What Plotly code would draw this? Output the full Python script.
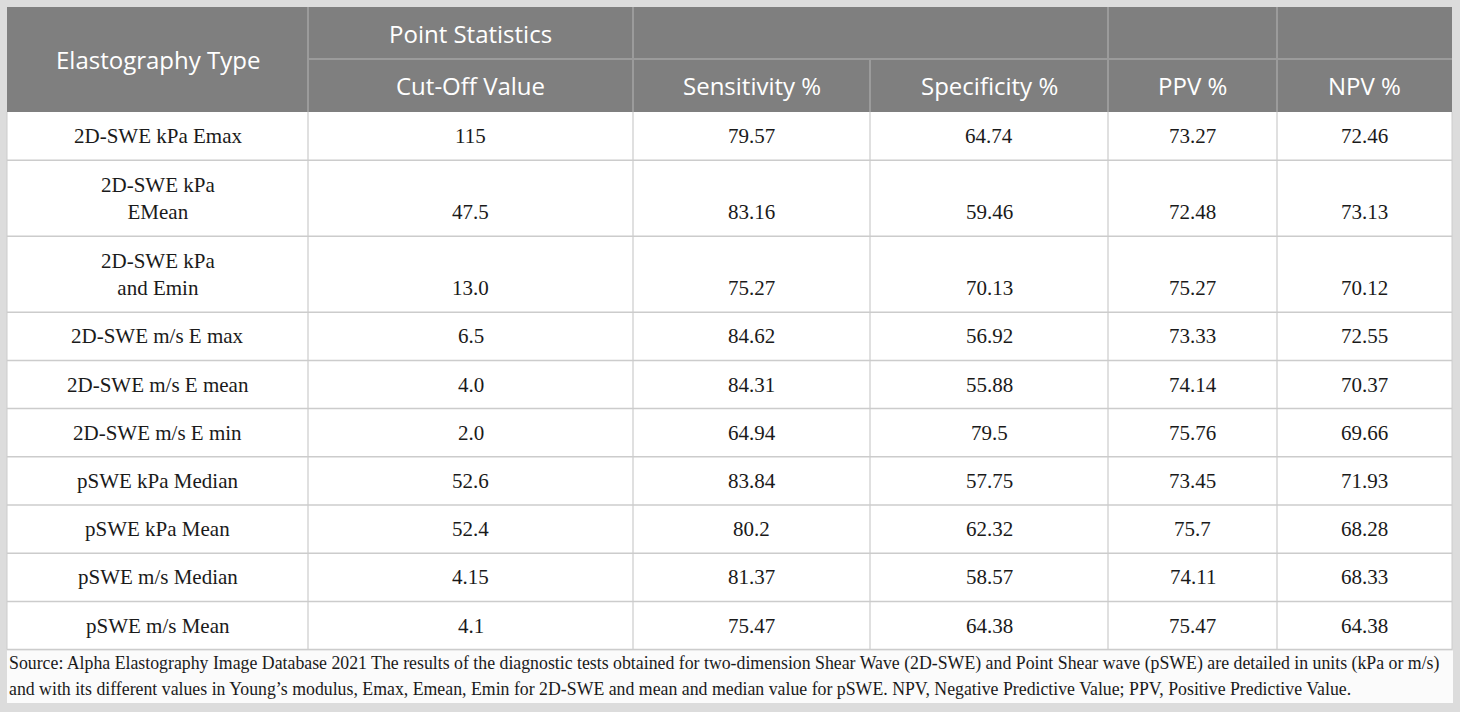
import plotly.graph_objects as go

# table content
elastography_type = ['2D-SWE kPa Emax', '2D-SWE kPa<br>EMean', '2D-SWE kPa<br>and Emin',
                     '2D-SWE m/s E max', '2D-SWE m/s E mean', '2D-SWE m/s E min',
                     'pSWE kPa Median', 'pSWE kPa Mean', 'pSWE m/s Median', 'pSWE m/s Mean']
cut_off = [115, 47.5, 13.0, 6.5, 4.0, 2.0, 52.6, 52.4, 4.15, 4.1]
sensitivity = [79.57, 83.16, 75.27, 84.62, 84.31, 64.94, 83.84, 80.2, 81.37, 75.47]
specificity = [64.74, 59.46, 70.13, 56.92, 55.88, 79.5, 57.75, 62.32, 58.57, 64.38]
ppv = [73.27, 72.48, 75.27, 73.33, 74.14, 75.76, 73.45, 75.7, 74.11, 75.47]
npv = [72.46, 73.13, 70.12, 72.55, 70.37, 69.66, 71.93, 68.28, 68.33, 64.38]

group_header = 'Point Statistics'
first_header = 'Elastography Type'
col_headers = ['Cut-Off Value', 'Sensitivity %', 'Specificity %', 'PPV %', 'NPV %']

footnote = ('Source: Alpha Elastography Image Database 2021 The results of the diagnostic tests obtained for '
            'two-dimension Shear Wave (2D-SWE) and Point Shear wave (pSWE) are detailed in units (kPa or m/s)<br>'
            'and with its different values in Young\u2019s modulus, Emax, Emean, Emin for 2D-SWE and mean and '
            'median value for pSWE. NPV, Negative Predictive Value; PPV, Positive Predictive Value.')

# geometry (pixels)
W, H = 1460, 712
edges = [7, 308, 633, 870, 1108, 1277, 1452]
head_top, head_mid, head_bot = 7, 59, 112
single_h, double_h = 48.2, 76
line_gap = 27
foot_bot = 703

HEAD_BG = '#7f7f7f'
HEAD_LINE = '#9b9b9b'
GRID = '#cccccc'
PAGE_BG = '#dcdcdc'
INK = '#1a1a1a'
SANS = 'Open Sans'
SERIF = 'Liberation Serif'

shapes = []
annotations = []


def rect(x0, y0, x1, y1, fill):
    shapes.append(dict(type='rect', xref='x', yref='y', x0=x0, y0=y0, x1=x1, y1=y1,
                       fillcolor=fill, line=dict(width=0), layer='below'))


def line(x0, y0, x1, y1, color, lw=1):
    shapes.append(dict(type='line', xref='x', yref='y', x0=x0, y0=y0, x1=x1, y1=y1,
                       line=dict(color=color, width=lw), layer='below'))


def text(x, y, s, font, size, color, anchor='center'):
    annotations.append(dict(x=x, y=y, xref='x', yref='y', text=s, showarrow=False,
                            xanchor=anchor, yanchor='middle', align=anchor,
                            borderpad=0, font=dict(family=font, size=size, color=color)))


# header block
rect(edges[0], head_top, edges[-1], head_bot, HEAD_BG)
line(edges[1], head_mid, edges[-1], head_mid, HEAD_LINE, 2)
for i, x in enumerate(edges[1:-1], start=1):
    y_start = head_mid if i == 3 else head_top
    line(x, y_start, x, head_bot, HEAD_LINE, 2)

text((edges[0] + edges[1]) / 2, (head_top + head_bot) / 2, first_header, SANS, 24, 'white')
text((edges[1] + edges[2]) / 2, (head_top + head_mid) / 2, group_header, SANS, 24, 'white')
for i, h in enumerate(col_headers):
    text((edges[i + 1] + edges[i + 2]) / 2, (head_mid + head_bot) / 2, h, SANS, 24, 'white')

# body
row_heights = [double_h if '<br>' in t else single_h for t in elastography_type]
body_bot = head_bot + sum(row_heights)
rect(edges[0], head_bot, edges[-1], body_bot, 'white')

columns = [cut_off, sensitivity, specificity, ppv, npv]
y = head_bot
for r, name in enumerate(elastography_type):
    h = row_heights[r]
    mid = y + h / 2
    num_y = mid + line_gap / 2 if h == double_h else mid
    text((edges[0] + edges[1]) / 2, mid, name, SERIF, 21, INK)
    for c, col in enumerate(columns):
        text((edges[c + 1] + edges[c + 2]) / 2, num_y, str(col[r]), SERIF, 21, INK)
    y += h
    line(edges[0], y, edges[-1], y, GRID, 1.5)

for x in edges[1:-1]:
    line(x, head_bot, x, body_bot, GRID, 1.2)
line(edges[0], head_bot, edges[0], body_bot, GRID, 1)
line(edges[-1], head_bot, edges[-1], body_bot, GRID, 1)

# footnote box, one annotation per printed line
rect(edges[0], body_bot + 1, edges[-1] + 1, foot_bot, '#fbfbfb')
foot_lines = footnote.split('<br>')
foot_mid = (body_bot + foot_bot) / 2
for k, s in enumerate(foot_lines):
    ly = foot_mid + (k - (len(foot_lines) - 1) / 2) * 26
    text(edges[0] + 1, ly, s, SERIF, 17.8, INK, anchor='left')

fig = go.Figure()
fig.update_layout(
    width=W, height=H,
    margin=dict(l=0, r=0, t=0, b=0),
    paper_bgcolor=PAGE_BG, plot_bgcolor=PAGE_BG,
    xaxis=dict(range=[0, W], visible=False, fixedrange=True),
    yaxis=dict(range=[H, 0], visible=False, fixedrange=True),
    shapes=shapes, annotations=annotations, showlegend=False,
)
fig.write_html('out.html', config={'displayModeBar': False},
               post_script="document.body.style.margin='0';")
